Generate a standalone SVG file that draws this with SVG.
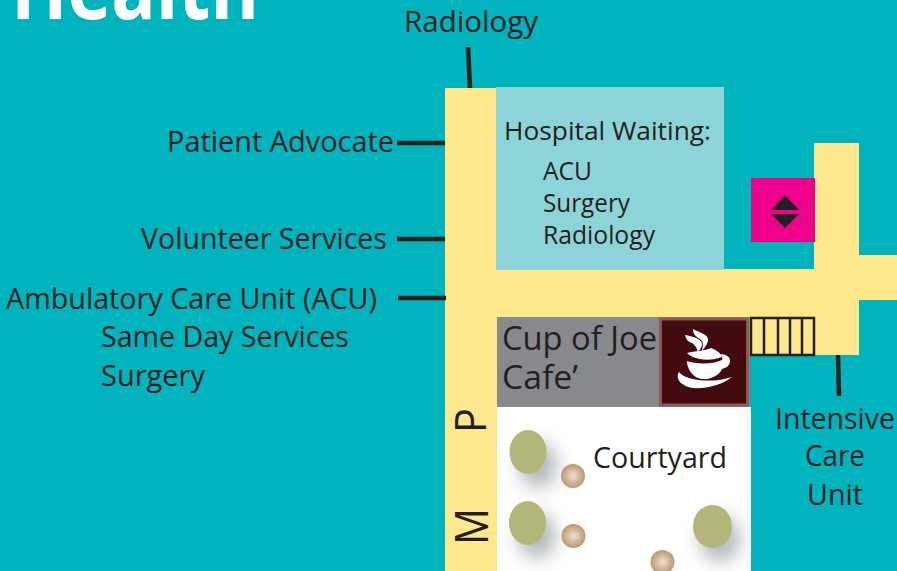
<svg xmlns="http://www.w3.org/2000/svg" width="897" height="571" viewBox="0 0 897 571">
<defs>
<radialGradient id="ball"><stop offset="0" stop-color="#ece2d6"/><stop offset="1" stop-color="#bc9670"/></radialGradient>
<filter id="shadow" x="-80%" y="-80%" width="260%" height="260%"><feGaussianBlur stdDeviation="9"/></filter>
<style>
text{font-family:"Open Sans","Noto Sans","Liberation Sans",sans-serif;fill:#231f20;font-size:29.500px}
.s{font-size:25px}
.c{font-size:33px}
.hall{fill:#fee88c}
.tick{stroke:#231f20;stroke-width:4.500;fill:none}
.tree{fill:#b3b679}
.sh{fill:#a2a6ab;opacity:.8;filter:url(#shadow)}
.ball{fill:url(#ball)}
</style>
</defs>
<rect width="897" height="571" fill="#00b3bc"/>
<text x="11" y="19" style="font-size:88px;font-weight:700;fill:#fff" textLength="248" lengthAdjust="spacingAndGlyphs">Health</text>
<g id="hallways">
<path class="hall" d="M445 88H496V270H724V269H814V143H859V255H897V300H859V355H815V318H497V571H445Z"/>
</g>
<g id="connectors">
<path class="tick" d="M468 47L470 88M397 143H445M397 239H445M398 298H446M838 355L839 396"/>
</g>
<g id="radiology"><text x="404" y="32" textLength="134" lengthAdjust="spacingAndGlyphs">Radiology</text></g>
<g id="patient-advocate"><text x="167" y="152" textLength="227" lengthAdjust="spacingAndGlyphs">Patient Advocate</text></g>
<g id="volunteer-services"><text x="141" y="249" textLength="246" lengthAdjust="spacingAndGlyphs">Volunteer Services</text></g>
<g id="acu">
<text x="6" y="309" textLength="371" lengthAdjust="spacingAndGlyphs">Ambulatory Care Unit (ACU)</text>
<text x="101" y="347" textLength="248" lengthAdjust="spacingAndGlyphs">Same Day Services</text>
<text x="101" y="386" textLength="104" lengthAdjust="spacingAndGlyphs">Surgery</text>
</g>
<g id="hospital-waiting">
<rect x="496" y="87" width="228" height="183" fill="#8dd4d9"/>
<text class="s" x="504" y="140" textLength="207" lengthAdjust="spacingAndGlyphs">Hospital Waiting:</text>
<text class="s" x="543" y="180" textLength="49" lengthAdjust="spacingAndGlyphs">ACU</text>
<text class="s" x="543" y="212" textLength="87" lengthAdjust="spacingAndGlyphs">Surgery</text>
<text class="s" x="543" y="244" textLength="112" lengthAdjust="spacingAndGlyphs">Radiology</text>
</g>
<g id="elevator">
<rect x="751" y="178" width="64" height="64" fill="#ec008c"/>
<path fill="#231f20" d="M785 195.500L799 210H771ZM771 214H799L785 228Z"/>
</g>
<g id="stairs">
<rect x="751" y="318" width="63" height="37" fill="#fee88c" stroke="#231f20" stroke-width="2.500"/>
<path d="M764 318V355M778 318V355M790 318V355M802 318V355" stroke="#231f20" stroke-width="2.500" fill="none"/>
</g>
<g id="cafe">
<rect x="497" y="317" width="253" height="90" fill="#87898c"/>
<text class="c" x="502" y="350" textLength="155" lengthAdjust="spacingAndGlyphs">Cup of Joe</text>
<text class="c" x="502" y="389" textLength="76" lengthAdjust="spacingAndGlyphs">Cafe’</text>
<rect x="660.500" y="319" width="87" height="86" fill="#430b10" stroke="#8c5a52" stroke-width="3"/>
<g fill="#fff">
<path d="M693 329C700 333 709 334 708 341C707 345 704 348 702 351C703 345 704 342 700 339C696 337 693 334 693 329Z"/>
<path d="M685 335C692 336 702 339 702 344C702 348 699 350 698 353C697 348 696 346 692 343C688 342 686 339 685 335Z"/>
<path d="M687 353C695 351 705 351 711 348C716 350 720 352 722 357C712 361 695 361 687 353Z"/>
<path d="M687 361C695 364 712 365 722 360C723 358 722 356 720 354C726 354 731 357 730 362C729 366 726 368 722 369C719 376 709 380 702 379C693 378 687 369 687 361Z"/>
<path d="M679 372C684 380 712 384 732 377C722 385 706 389 693 388C684 387 674 380 679 372Z"/>
</g>
</g>
<g id="courtyard">
<path d="M497 407H751V571H497Z" fill="#fff"/>
<ellipse class="sh" cx="538" cy="465" rx="19" ry="23"/>
<ellipse class="sh" cx="537" cy="536" rx="19" ry="23"/>
<ellipse class="sh" cx="720" cy="539" rx="20" ry="23"/>
<ellipse class="tree" cx="528" cy="452" rx="18.500" ry="22"/>
<ellipse class="tree" cx="527.500" cy="523" rx="18.500" ry="22"/>
<ellipse class="tree" cx="712.500" cy="526.500" rx="19.500" ry="21.500"/>
<circle class="ball" cx="573" cy="476" r="12"/>
<circle class="ball" cx="573.500" cy="536" r="12"/>
<circle class="ball" cx="662.500" cy="562" r="12"/>
<text x="593" y="468" textLength="134" lengthAdjust="spacingAndGlyphs">Courtyard</text>
</g>
<g id="map-labels">
<text transform="translate(486 433) rotate(-90)" style="font-size:43px" textLength="25" lengthAdjust="spacingAndGlyphs">P</text>
<text transform="translate(488 545) rotate(-90)" style="font-size:45px" textLength="37" lengthAdjust="spacingAndGlyphs">M</text>
</g>
<g id="icu">
<text x="775" y="429" textLength="120" lengthAdjust="spacingAndGlyphs">Intensive</text>
<text x="805" y="466" textLength="60" lengthAdjust="spacingAndGlyphs">Care</text>
<text x="807" y="505" textLength="56" lengthAdjust="spacingAndGlyphs">Unit</text>
</g>
</svg>
